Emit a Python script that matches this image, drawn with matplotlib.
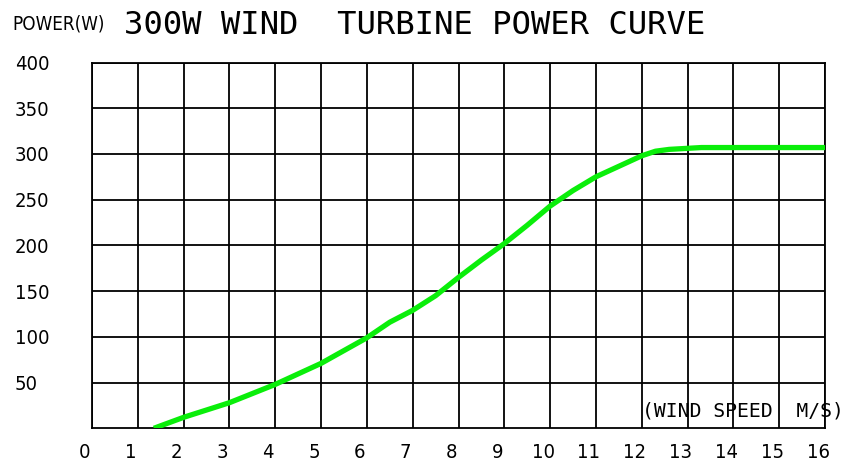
import matplotlib
matplotlib.use("Agg")
import matplotlib.pyplot as plt
import matplotlib.transforms as mtransforms

# ---- data ----
wind_speed = [1.35, 2, 3, 4, 5, 6, 6.5, 7, 7.5, 8, 8.5, 9, 9.5, 10, 10.5, 11, 12, 12.3, 12.6, 13.3, 14, 15, 16]
power = [0, 12, 28, 48, 71, 99, 116, 129, 145, 165, 184, 202, 222, 243, 260, 275, 298, 303, 305, 307, 307, 307, 307]

x_ticks = list(range(0, 17))
x_tick_labels = [str(v) for v in x_ticks]
y_ticks = list(range(50, 401, 50))
y_tick_labels = [str(v) for v in y_ticks]

title_text = "300W WIND  TURBINE POWER CURVE"
y_axis_text = "POWER(W)"
x_axis_text = "(WIND SPEED  M/S)"

W, H = 848, 468
fig = plt.figure(figsize=(W / 100, H / 100), dpi=100)
fig.patch.set_facecolor("white")

left, right, top, bottom = 92, 825, 62.5, 428.3
ax = fig.add_axes([left / W, 1 - bottom / H, (right - left) / W, (bottom - top) / H])

ax.plot(wind_speed, power, color="#0aee0a", lw=3.8, solid_joinstyle="round",
        solid_capstyle="butt", zorder=3)

ax.set_xlim(0, 16)
ax.set_ylim(0, 400)
ax.set_xticks(x_ticks)
ax.set_yticks(y_ticks)
ax.grid(True, color="black", lw=1.3, zorder=1)
ax.set_axisbelow(True)
for s in ax.spines.values():
    s.set_color("black")
    s.set_linewidth(1.3)

label_font = dict(family="DejaVu Sans", stretch="condensed", size=14.5)

ax.set_yticklabels(y_tick_labels, ha="left", **label_font)
ax.tick_params(axis="y", length=0, pad=(left - 15) * 0.72)
ax.set_xticklabels(x_tick_labels, **label_font)
ax.tick_params(axis="x", length=0, pad=10.5)
shift = mtransforms.ScaledTranslation(-7 / 100, 0, fig.dpi_scale_trans)
for lab in ax.get_xticklabels():
    lab.set_transform(lab.get_transform() + shift)

fig.text(124 / W, 1 - 25.5 / H, title_text, family="DejaVu Sans Mono",
         fontsize=23.2, ha="left", va="center")
fig.text(12 / W, 1 - 24.5 / H, y_axis_text, family="DejaVu Sans",
         stretch="condensed", fontsize=13.5, ha="left", va="center")
fig.text(642 / W, 1 - 411 / H, x_axis_text, family="DejaVu Sans Mono",
         fontsize=14.2, ha="left", va="center")

fig.savefig("out.png", dpi=100, facecolor="white")
